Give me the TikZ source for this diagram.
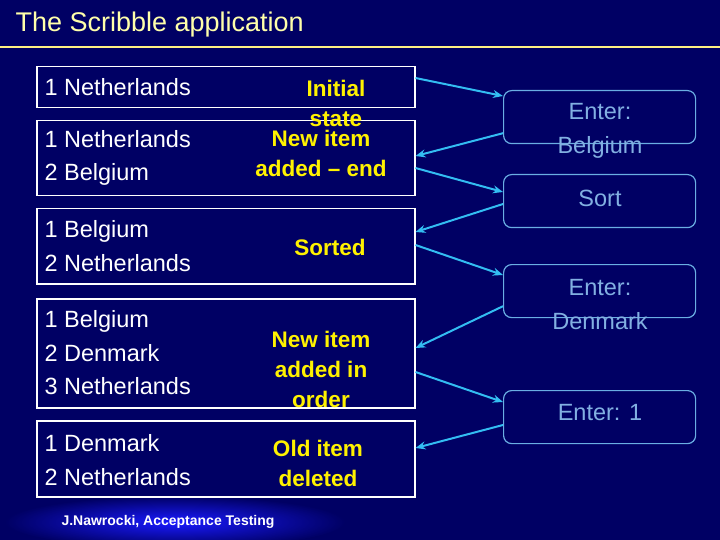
\documentclass[tikz,border=0pt]{standalone}
\usepackage{fontspec}
\setmainfont{Liberation Sans}
\usetikzlibrary{arrows.meta}
\begin{document}
\begin{tikzpicture}[x=1pt,y=-1pt,
  lbox/.style={draw=white,line width=1.5pt,minimum height=#1,minimum width=378,inner sep=0,anchor=north west},
  rbox/.style={draw=cyan!70!blue!60!white,line width=1.2pt,rounded corners=8,minimum width=192,minimum height=53,inner sep=0,anchor=north west},
  ltxt/.style={text=white,font=\fontsize{23.5}{33.5}\selectfont,align=left,anchor=west},
  ytxt/.style={text=yellow,font=\bfseries\fontsize{22.5}{30}\selectfont,align=center},
  ctxt/.style={text=cyan!60!blue!50!white,font=\fontsize{23.5}{34}\selectfont,align=center},
  arr/.style={draw=cyan!80!white,line width=2pt,-{Stealth[length=10pt,width=8pt]}}]
\useasboundingbox (0,0) rectangle (720,540);
\clip (0,0) rectangle (720,540);
\fill[color={rgb,255:red,0;green,0;blue,100}] (0,0) rectangle (720,540);
\shade[inner color=blue!90!white,outer color={rgb,255:red,0;green,0;blue,100}] (175,522) ellipse (170 and 26);
\node[text={rgb,255:red,255;green,255;blue,170},font=\fontsize{27}{32}\selectfont,anchor=west] (title) at (12,25) {The Scribble application};
\draw[draw={rgb,255:red,255;green,240;blue,130},line width=2.5pt] (0,47) -- (720,47);
\node[lbox=41] (b1) at (36,66) {};
\node[lbox=75] (b2) at (36,120) {};
\node[lbox=75] (b3) at (36,208) {};
\node[lbox=109] (b4) at (36,298) {};
\node[lbox=76] (b5) at (36,420) {};
\node[ltxt] (t1) at (41,87) {1 Netherlands};
\node[ltxt] (t2) at (41,158) {1 Netherlands\\2 Belgium};
\node[ltxt] (t3) at (41,246) {1 Belgium\\2 Netherlands};
\node[ltxt] (t4) at (41,353) {1 Belgium\\2 Denmark\\3 Netherlands};
\node[ltxt] (t5) at (41,460) {1 Denmark\\2 Netherlands};
\node[ytxt] (y1) at (336,103) {Initial\\state};
\node[ytxt] (y2) at (321,153) {New item\\added -- end};
\node[ytxt] (y3) at (330,247) {Sorted};
\node[ytxt] (y4) at (321,369) {New item\\added in\\order};
\node[ytxt] (y5) at (318,463) {Old item\\deleted};
\node[rbox] (r1) at (503,90) {};
\node[rbox] (r2) at (503,174) {};
\node[rbox] (r3) at (503,264) {};
\node[rbox] (r4) at (503,390) {};
\node[ctxt] (c1) at (600,131) {Enter:\\Belgium};
\node[ctxt] (c2) at (600,198) {Sort};
\node[ctxt] (c3) at (600,305) {Enter:\\Denmark};
\node[ctxt] (c4) at (600,413) {Enter: 1};
\draw[arr] ([yshift=-12pt]b1.north east) -- ([yshift=-6pt]r1.north west);
\draw[arr] ([yshift=11pt]r1.south west) -- ([yshift=-36pt]b2.north east);
\draw[arr] ([yshift=-48pt]b2.north east) -- ([yshift=-18pt]r2.north west);
\draw[arr] ([yshift=-30pt]r2.north west) -- ([yshift=-24pt]b3.north east);
\draw[arr] ([yshift=-37pt]b3.north east) -- ([yshift=-11pt]r3.north west);
\draw[arr] ([yshift=12pt]r3.south west) -- ([yshift=-50pt]b4.north east);
\draw[arr] ([yshift=-74pt]b4.north east) -- ([yshift=-12pt]r4.north west);
\draw[arr] ([yshift=-35pt]r4.north west) -- ([yshift=-28pt]b5.north east);
\node[text=white,font=\bfseries\fontsize{14}{16}\selectfont,anchor=west] (foot) at (58,522) {J.Nawrocki, Acceptance Testing};
\end{tikzpicture}
\end{document}
